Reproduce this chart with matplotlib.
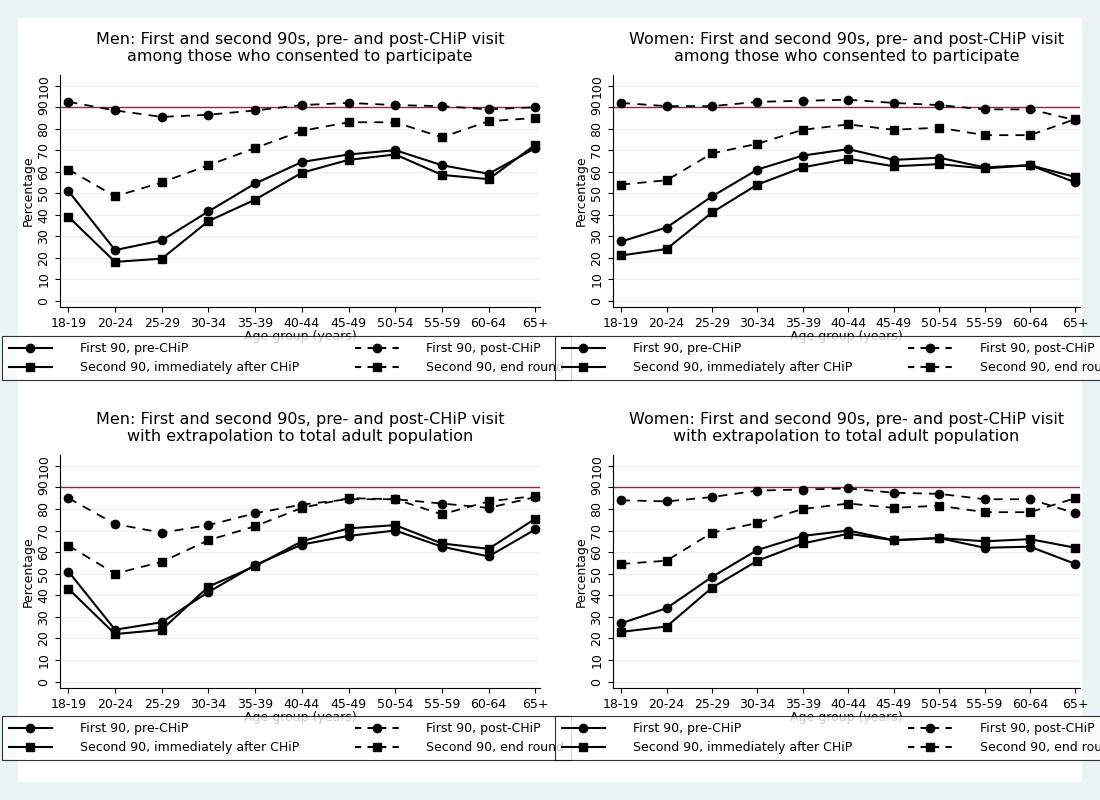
import matplotlib
matplotlib.use("Agg")
import matplotlib.pyplot as plt
from matplotlib.patches import Rectangle
from matplotlib.lines import Line2D

age_groups = ["18-19", "20-24", "25-29", "30-34", "35-39", "40-44",
              "45-49", "50-54", "55-59", "60-64", "65+"]

# Men, among consenting participants
men_top_pre = [51, 23.5, 28, 41.5, 54.5, 64.5, 68, 70, 63, 59, 71]
men_top_post = [92.5, 88.5, 85.5, 86.5, 88.5, 91, 92, 91, 90.5, 89, 90]
men_top_imm = [39, 18, 19.5, 37, 47, 59.5, 65.5, 68, 58.5, 56.5, 72.5]
men_top_end = [61, 48.5, 55, 63, 71, 79, 83, 83, 76, 83.5, 85]

# Women, among consenting participants
women_top_pre = [27.5, 34, 48.5, 61, 67.5, 70.5, 65.5, 66.5, 62, 63, 55]
women_top_post = [92, 90.5, 90.5, 92.5, 93, 93.5, 92, 91, 89, 89, 84]
women_top_imm = [21, 24, 41, 54, 62, 66, 62.5, 63.5, 61.5, 63, 57.5]
women_top_end = [54, 56, 68.5, 73, 79.5, 82, 79.5, 80.5, 77, 77, 84.5]

# Men, extrapolated to total adult population
men_bot_pre = [51, 24, 27.5, 41.5, 54, 63.5, 67.5, 70, 62.5, 58, 70.5]
men_bot_post = [85, 73, 69, 72.5, 78, 82, 84.5, 84.5, 82.5, 80.5, 85.5]
men_bot_imm = [43, 22, 24, 44, 53.5, 65, 71, 72.5, 64, 61.5, 75.5]
men_bot_end = [63, 50, 55.5, 65.5, 72, 80.5, 85, 84.5, 77.5, 83.5, 86]

# Women, extrapolated to total adult population
women_bot_pre = [27, 34, 48.5, 61, 67.5, 70, 65.5, 66.5, 62, 62.5, 54.5]
women_bot_post = [84, 83.5, 85.5, 88.5, 89, 89.5, 87.5, 87, 84.5, 84.5, 78]
women_bot_imm = [23, 25.5, 43.5, 56, 64, 68.5, 65.5, 66.5, 65, 66, 62]
women_bot_end = [54.5, 56, 69, 73.5, 80, 82.5, 80.5, 81.5, 78.5, 78.5, 85]

target = 90
labels = ["First 90, pre-CHiP", "First 90, post-CHiP",
          "Second 90, immediately after CHiP", "Second 90, end round"]

panels = [
    ("Men: First and second 90s, pre- and post-CHiP visit\namong those who consented to participate",
     men_top_pre, men_top_post, men_top_imm, men_top_end),
    ("Women: First and second 90s, pre- and post-CHiP visit\namong those who consented to participate",
     women_top_pre, women_top_post, women_top_imm, women_top_end),
    ("Men: First and second 90s, pre- and post-CHiP visit\nwith extrapolation to total adult population",
     men_bot_pre, men_bot_post, men_bot_imm, men_bot_end),
    ("Women: First and second 90s, pre- and post-CHiP visit\nwith extrapolation to total adult population",
     women_bot_pre, women_bot_post, women_bot_imm, women_bot_end),
]

W, H = 1100, 800
fig = plt.figure(figsize=(11, 8), dpi=100)
fig.patch.set_facecolor("#eaf2f3")
fig.patches.append(Rectangle((18 / W, 1 - 782 / H), 1064 / W, 764 / H,
                             transform=fig.transFigure, facecolor="white",
                             edgecolor="none", zorder=-10))

# pixel boxes: left, top, right, bottom of axes, then legend top
boxes = [
    (60, 75, 540, 307, 337),
    (613, 75, 1080, 307, 337),
    (60, 455, 540, 688, 717),
    (613, 455, 1080, 688, 717),
]

x = list(range(len(age_groups)))
for (title, pre, post, imm, end), (l, t, r, b, lt) in zip(panels, boxes):
    ax = fig.add_axes([l / W, 1 - b / H, (r - l) / W, (b - t) / H])
    ax.set_facecolor("white")
    ax.axhline(target, color="#b5163b", lw=1, zorder=2)
    ax.plot(x, pre, "-", marker="o", color="black", lw=1.5, ms=6, zorder=4)
    ax.plot(x, post, "--", marker="o", color="black", lw=1.3, ms=6,
            dashes=(5, 4), zorder=4)
    ax.plot(x, imm, "-", marker="s", color="black", lw=1.5, ms=6, zorder=4)
    ax.plot(x, end, "--", marker="s", color="black", lw=1.3, ms=6,
            dashes=(5, 4), zorder=4)
    ax.set_ylim(-3, 105)
    ax.set_xlim(-0.18, 10.1)
    ax.set_yticks(range(0, 101, 10))
    ax.set_yticklabels([str(v) for v in range(0, 101, 10)], rotation=90,
                       va="center", fontsize=9)
    ax.set_xticks(x)
    ax.set_xticklabels(age_groups, fontsize=9)
    ax.yaxis.grid(True, color="#eeeeee", lw=0.8)
    ax.set_axisbelow(True)
    for s in ("top", "right"):
        ax.spines[s].set_visible(False)
    ax.set_ylabel("Percentage", fontsize=9, labelpad=2)
    ax.set_xlabel("Age group (years)", fontsize=9, labelpad=0)
    ax.set_title(title, fontsize=11.5, pad=10)

    handles = [
        Line2D([], [], color="black", ls="-", marker="o", ms=6),
        Line2D([], [], color="black", ls="--", marker="o", ms=6, dashes=(3, 3)),
        Line2D([], [], color="black", ls="-", marker="s", ms=6),
        Line2D([], [], color="black", ls="--", marker="s", ms=6, dashes=(3, 3)),
    ]
    lax = fig.add_axes([(l + 5) / W, 1 - (lt + 42) / H, 443 / W, 42 / H])
    lax.axis("off")
    leg = lax.legend([handles[0], handles[2], handles[1], handles[3]],
                     [labels[0], labels[2], labels[1], labels[3]],
                     ncol=2, loc="center", fontsize=9,
                     frameon=True, fancybox=False, edgecolor="black",
                     handlelength=3.5, columnspacing=4.5, labelspacing=0.5,
                     handletextpad=2.2, borderpad=0.5)
    leg.get_frame().set_linewidth(0.8)

fig.savefig("out.png", dpi=100, facecolor=fig.get_facecolor())
